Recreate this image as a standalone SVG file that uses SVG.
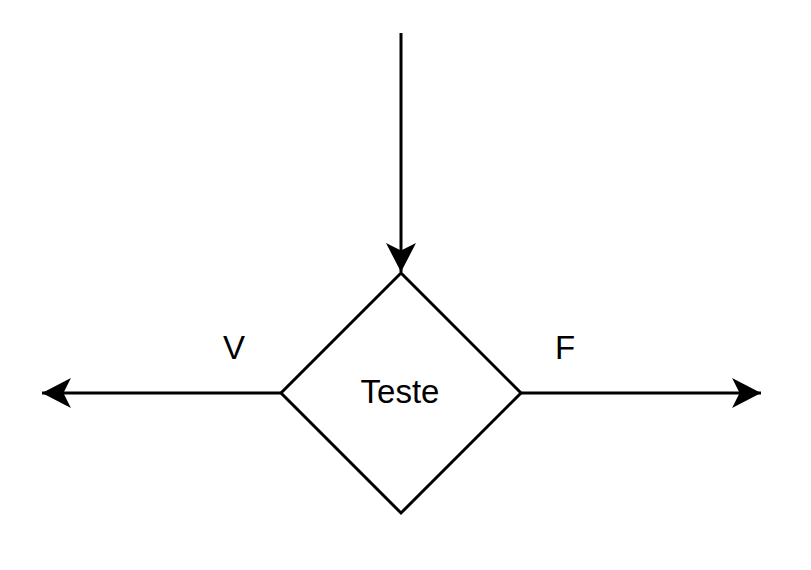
<svg xmlns="http://www.w3.org/2000/svg" width="811" height="570" viewBox="0 0 811 570">
<defs>
<style>
.ln{stroke:#000;stroke-width:3;fill:none}
.tx{font-family:"Liberation Sans",Arial,sans-serif;font-size:33px;fill:#000;text-anchor:middle}
</style>
<marker id="ah" markerUnits="userSpaceOnUse" markerWidth="30" markerHeight="30" viewBox="0 0 28 28" refX="27" refY="14" orient="auto">
<path d="M0,0 L27,14 L0,28 L7,14 Z" fill="#000"/>
</marker>
</defs>
<rect width="811" height="570" fill="#fff"/>
<g id="connectors">
<line class="ln" x1="401" y1="33" x2="401" y2="272" marker-end="url(#ah)"/>
<line class="ln" x1="281" y1="393" x2="42" y2="393" marker-end="url(#ah)"/>
<line class="ln" x1="521" y1="393" x2="761" y2="393" marker-end="url(#ah)"/>
<text class="tx" x="234" y="359">V</text>
<text class="tx" x="565" y="359">F</text>
</g>
<g id="teste">
<polygon class="ln" points="401,273 521,393 401,513 281,393" fill="#fff" style="fill:#fff"/>
<text class="tx" x="400" y="403">Teste</text>
</g>
</svg>
